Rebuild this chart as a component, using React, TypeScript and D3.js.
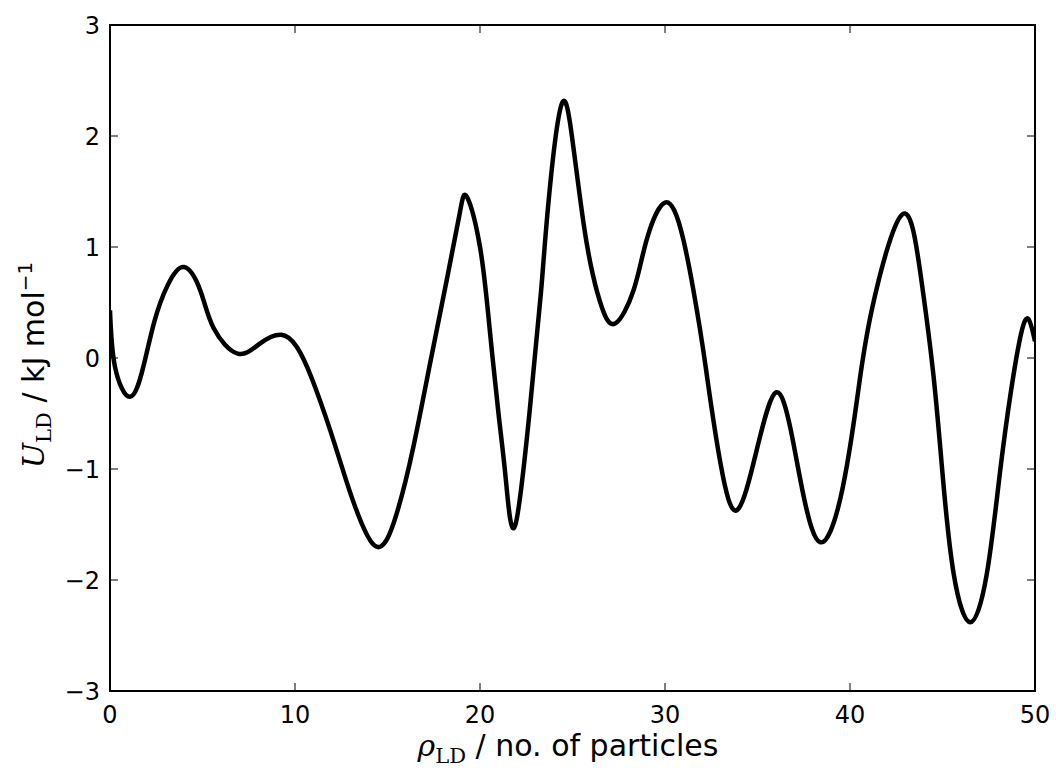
import React from "react";
import * as d3 from "d3";

const rho: number[] = [0, 0.27, 1.08, 1.8, 2.4, 3.1, 4.0, 4.9, 5.6, 6.9, 8.1, 9.25, 10.1, 10.9, 11.9, 12.8, 14.3, 15.5, 16.4, 17.3, 18.2, 18.9, 19.3, 20.0, 20.5, 21.0, 21.4, 21.9, 22.7, 23.3, 23.7, 24.4, 25.0, 25.6, 26.1, 26.6, 27.3, 28.3, 29.0, 30.0, 31.0, 31.9, 32.3, 33.0, 33.9, 35.0, 36.0, 36.8, 37.5, 38.4, 39.5, 40.4, 41.2, 42.8, 43.8, 44.5, 45.0, 45.6, 46.5, 47.4, 48.1, 48.7, 49.25, 49.65, 50];
const energy: number[] = [0.43, -0.08, -0.35, -0.08, 0.33, 0.65, 0.82, 0.6, 0.27, 0.04, 0.13, 0.21, 0.1, -0.18, -0.65, -1.12, -1.69, -1.4, -0.8, -0.05, 0.7, 1.3, 1.45, 1.0, 0.3, -0.5, -1.1, -1.51, -0.45, 0.6, 1.4, 2.28, 1.96, 1.21, 0.75, 0.45, 0.31, 0.61, 1.06, 1.4, 1.06, 0.25, -0.2, -0.95, -1.37, -0.8, -0.31, -0.65, -1.25, -1.66, -1.25, -0.35, 0.45, 1.29, 0.77, -0.14, -1.04, -1.94, -2.38, -1.94, -1.04, -0.3, 0.22, 0.35, 0.15];
const xTicks: number[] = [0, 10, 20, 30, 40, 50];
const yTicks: number[] = [-3, -2, -1, 0, 1, 2, 3];

const W = 1056;
const H = 774;
const L = 110, R = 1035, T = 25, B = 691;
const TICK = 8;
const FONT = "DejaVu Sans, sans-serif";
const SERIF = "DejaVu Serif, Liberation Serif, serif";

function fmt(v: number): string {
  return v < 0 ? "\u2212" + Math.abs(v) : String(v);
}

export default function App() {
  const x = d3.scaleLinear().domain([0, 50]).range([L, R]);
  const y = d3.scaleLinear().domain([-3, 3]).range([B, T]);
  const pts: [number, number][] = rho.map((r, i) => [r, energy[i]]);
  const line = d3
    .line<[number, number]>()
    .x((d) => x(d[0]))
    .y((d) => y(d[1]))
    .curve(d3.curveNatural);

  return (
    <svg
      width={W}
      height={H}
      style={{ position: "absolute", left: 0, top: 0, background: "#fff" }}
    >
      <rect x={0} y={0} width={W} height={H} fill="#fff" />
      <defs>
        <clipPath id="plotclip">
          <rect x={L} y={T} width={R - L} height={B - T} />
        </clipPath>
      </defs>
      <path
        d={line(pts) || ""}
        fill="none"
        stroke="#000"
        strokeWidth={4.5}
        strokeLinejoin="round"
        clipPath="url(#plotclip)"
      />
      {xTicks.map((t) => (
        <g key={"xt" + t}>
          <line x1={x(t)} x2={x(t)} y1={B} y2={B - TICK} stroke="#000" strokeWidth={1} />
          <line x1={x(t)} x2={x(t)} y1={T} y2={T + TICK} stroke="#000" strokeWidth={1} />
          <text x={x(t)} y={723} textAnchor="middle" fontFamily={FONT} fontSize={24}>
            {fmt(t)}
          </text>
        </g>
      ))}
      {yTicks.map((t) => (
        <g key={"yt" + t}>
          <line x1={L} x2={L + TICK} y1={y(t)} y2={y(t)} stroke="#000" strokeWidth={1} />
          <line x1={R} x2={R - TICK} y1={y(t)} y2={y(t)} stroke="#000" strokeWidth={1} />
          <text
            x={100}
            y={y(t)}
            dy="0.36em"
            textAnchor="end"
            fontFamily={FONT}
            fontSize={24}
          >
            {fmt(t)}
          </text>
        </g>
      ))}
      <rect
        x={L}
        y={T}
        width={R - L}
        height={B - T}
        fill="none"
        stroke="#000"
        strokeWidth={2}
      />
      <text x={568} y={756} textAnchor="middle" fontFamily={FONT} fontSize={30}>
        <tspan fontFamily={SERIF} fontStyle="italic">ρ</tspan>
        <tspan fontFamily={SERIF} fontSize={21} dy={7}>LD</tspan>
        <tspan dy={-7}> / no. of particles</tspan>
      </text>
      <text
        transform="translate(44,365) rotate(-90)"
        textAnchor="middle"
        fontFamily={FONT}
        fontSize={30}
      >
        <tspan fontFamily={SERIF} fontStyle="italic">U</tspan>
        <tspan fontFamily={SERIF} fontSize={21} dy={7}>LD</tspan>
        <tspan dy={-7}> / kJ mol</tspan>
        <tspan fontSize={20} dy={-12}>−1</tspan>
      </text>
    </svg>
  );
}
